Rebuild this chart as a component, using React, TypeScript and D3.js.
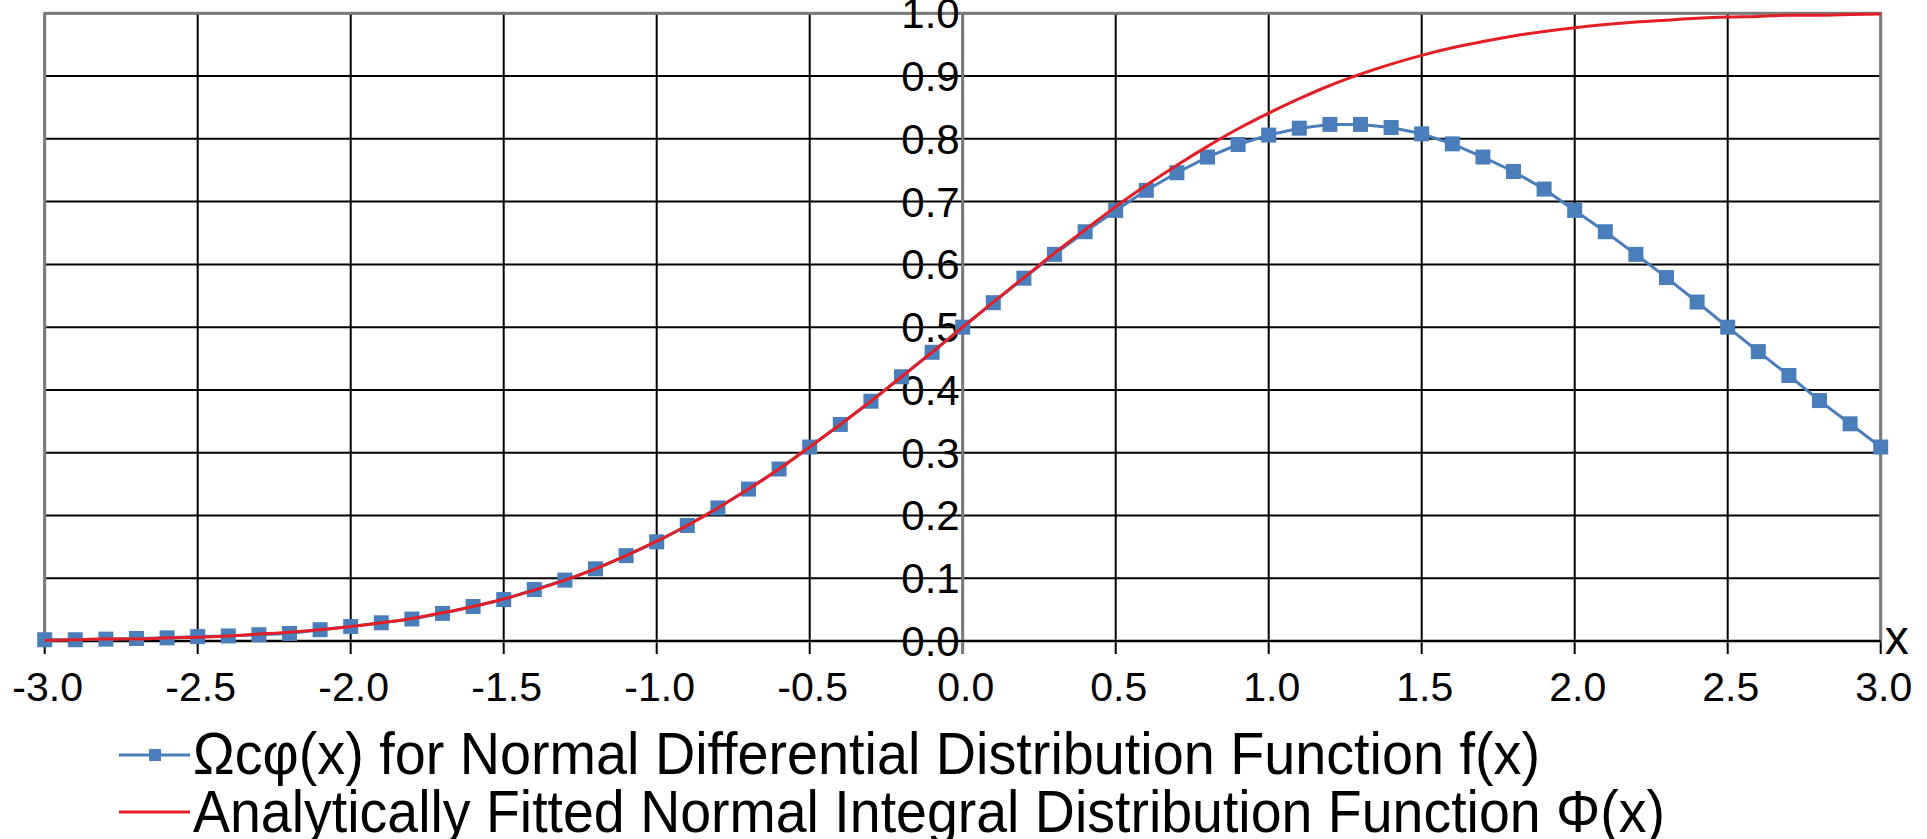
import React from 'react';
import * as d3 from 'd3';

const xValues = [
  -3.0, -2.9, -2.8, -2.7, -2.6, -2.5, -2.4, -2.3, -2.2, -2.1, -2.0, -1.9, -1.8, -1.7, -1.6, -1.5, -1.4, -1.3,
  -1.2, -1.1, -1.0, -0.9, -0.8, -0.7, -0.6, -0.5, -0.4, -0.3, -0.2, -0.1, 0.0, 0.1, 0.2, 0.3, 0.4, 0.5, 0.6,
  0.7, 0.8, 0.9, 1.0, 1.1, 1.2, 1.3, 1.4, 1.5, 1.6, 1.7, 1.8, 1.9, 2.0, 2.1, 2.2, 2.3, 2.4, 2.5, 2.6, 2.7,
  2.8, 2.9, 3.0,
];

// Ωcφ(x) markers (blue)
const omegaValues = [
  0.002, 0.002, 0.003, 0.004, 0.005, 0.007, 0.008, 0.01, 0.012, 0.018, 0.023, 0.029, 0.035, 0.044, 0.055,
  0.066, 0.082, 0.097, 0.115, 0.136, 0.158, 0.184, 0.212, 0.242, 0.274, 0.309, 0.345, 0.382, 0.421, 0.46,
  0.5, 0.539, 0.578, 0.616, 0.652, 0.686, 0.718, 0.746, 0.771, 0.791, 0.806, 0.817, 0.823, 0.823, 0.818,
  0.808, 0.792, 0.771, 0.748, 0.72, 0.686, 0.652, 0.616, 0.579, 0.54, 0.5, 0.461, 0.423, 0.383, 0.346, 0.309,
];

// fitted integral curve (red)
const phiValues = [
  0.001, 0.002, 0.003, 0.003, 0.005, 0.006, 0.008, 0.011, 0.014, 0.018, 0.023, 0.029, 0.036, 0.045, 0.055,
  0.067, 0.081, 0.097, 0.115, 0.136, 0.159, 0.184, 0.212, 0.242, 0.274, 0.309, 0.345, 0.382, 0.421, 0.46,
  0.5, 0.54, 0.579, 0.618, 0.655, 0.692, 0.726, 0.758, 0.788, 0.816, 0.841, 0.864, 0.885, 0.903, 0.919,
  0.933, 0.945, 0.955, 0.964, 0.971, 0.977, 0.982, 0.986, 0.989, 0.992, 0.994, 0.995, 0.997, 0.997, 0.998,
  0.999,
];

const xTicks = [-3.0, -2.5, -2.0, -1.5, -1.0, -0.5, 0.0, 0.5, 1.0, 1.5, 2.0, 2.5, 3.0];
const yTicks = [0.0, 0.1, 0.2, 0.3, 0.4, 0.5, 0.6, 0.7, 0.8, 0.9, 1.0];

const legendLabels = [
  'Ωcφ(x) for Normal Differential Distribution Function f(x)',
  'Analytically Fitted Normal Integral Distribution Function Φ(x)',
];

const BLUE = '#4a7ebb';
const RED = '#e41e26';
const FONT = '"Liberation Sans", Arial, sans-serif';

const App: React.FC = () => {
  const width = 1927;
  const height = 839;
  const x = d3.scaleLinear().domain([-3, 3]).range([44.7, 1880.7]);
  const y = d3.scaleLinear().domain([0, 1]).range([641, 13.3]);

  const omega = xValues.map((v, i) => [v, omegaValues[i]] as [number, number]);
  const phi = xValues.map((v, i) => [v, phiValues[i]] as [number, number]);

  const straight = d3
    .line<[number, number]>()
    .x(d => x(d[0]))
    .y(d => y(d[1]));
  const smooth = d3
    .line<[number, number]>()
    .x(d => x(d[0]))
    .y(d => y(d[1]))
    .curve(d3.curveMonotoneX);

  const fmt = (v: number) => v.toFixed(1); // plain hyphen minus like the original
  const ms = 15;

  return (
    <div style={{ position: 'absolute', left: 0, top: 0 }}>
      <svg width={width} height={height} style={{ display: 'block', background: '#fff' }}>
        {/* horizontal grid */}
        {yTicks.map(t => (
          <line key={'h' + t} x1={x(-3)} x2={x(3)} y1={y(t)} y2={y(t)} stroke="#000" strokeWidth={2} />
        ))}
        {/* vertical grid + tick marks below */}
        {xTicks.map(t => (
          <line key={'v' + t} x1={x(t)} x2={x(t)} y1={y(1)} y2={y(0) + 13} stroke="#000" strokeWidth={2} />
        ))}
        {/* plot border and y axis */}
        <rect x={x(-3)} y={y(1)} width={x(3) - x(-3)} height={y(0) - y(1)} fill="none" stroke="#7a7a7a" strokeWidth={3} />
        <line x1={x(0)} x2={x(0)} y1={y(1)} y2={y(0) + 13} stroke="#7a7a7a" strokeWidth={3} />
        <line x1={x(-3)} x2={x(3)} y1={y(0)} y2={y(0)} stroke="#000" strokeWidth={2} />

        {/* y tick labels sit beside the x = 0 axis */}
        {yTicks.map(t => (
          <text key={'yl' + t} x={x(0) - 3} y={y(t) + 15} textAnchor="end" fontFamily={FONT} fontSize={42} fill="#000">
            {fmt(t)}
          </text>
        ))}
        {xTicks.map(t => (
          <text key={'xl' + t} x={x(t) + 3} y={701} textAnchor="middle" fontFamily={FONT} fontSize={41} fill="#000">
            {fmt(t)}
          </text>
        ))}
        <text x={x(3) + 4} y={y(0) + 13} fontFamily={FONT} fontSize={48} fill="#000">
          x
        </text>

        {/* blue series */}
        <path d={straight(omega) ?? ''} fill="none" stroke={BLUE} strokeWidth={3} />
        {omega.map(d => (
          <rect key={'m' + d[0]} x={x(d[0]) - ms / 2} y={y(d[1]) - ms / 2} width={ms} height={ms} fill={BLUE} />
        ))}
        {/* red series */}
        <path d={smooth(phi) ?? ''} fill="none" stroke={RED} strokeWidth={3} />

        {/* legend */}
        <line x1={119} x2={190} y1={755} y2={755} stroke={BLUE} strokeWidth={3} />
        <rect x={155 - 6} y={755 - 6} width={12} height={12} fill={BLUE} />
        <text x={193} y={774} fontFamily={FONT} fontSize={59} fill="#000" textLength={1347} lengthAdjust="spacingAndGlyphs">
          {legendLabels[0]}
        </text>
        <line x1={119} x2={190} y1={812} y2={812} stroke={RED} strokeWidth={3} />
        <text x={193} y={832} fontFamily={FONT} fontSize={59} fill="#000" textLength={1472} lengthAdjust="spacingAndGlyphs">
          {legendLabels[1]}
        </text>
      </svg>
    </div>
  );
};

export default App;
